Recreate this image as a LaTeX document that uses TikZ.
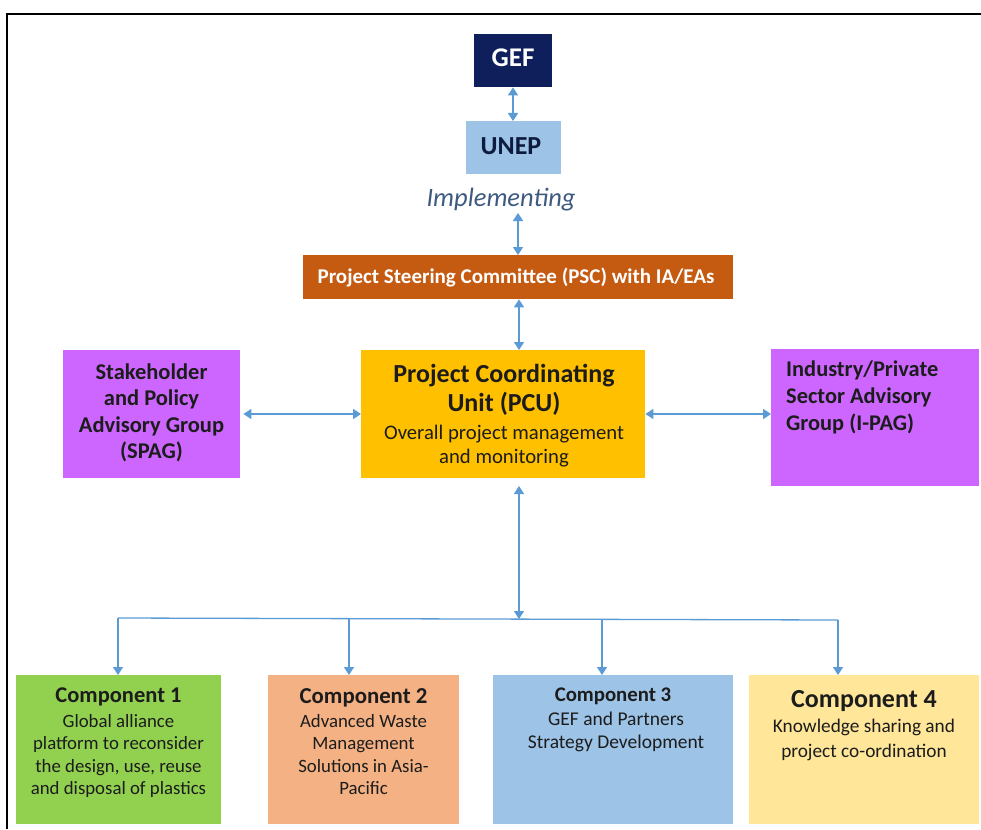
\documentclass[tikz,border=0pt]{standalone}
\usepackage{fontspec}
\setmainfont{Carlito}
\usetikzlibrary{arrows.meta}
\definecolor{gefnavy}{HTML}{0E1F5B}
\definecolor{unepblue}{HTML}{9DC3E6}
\definecolor{unepink}{HTML}{0D1B3E}
\definecolor{pscbrown}{HTML}{C55A11}
\definecolor{pcugold}{HTML}{FFC000}
\definecolor{advpurple}{HTML}{CC66FF}
\definecolor{cgreen}{HTML}{92D050}
\definecolor{corange}{HTML}{F4B183}
\definecolor{cblue}{HTML}{9DC3E6}
\definecolor{cyellow}{HTML}{FFE699}
\definecolor{arrowblue}{HTML}{5B9BD5}
\definecolor{implink}{HTML}{3E5A80}
\definecolor{darkink}{HTML}{1C1C1C}
\tikzset{
  boxshape/.style={rectangle, draw=none, inner sep=0pt, anchor=north west},
  txt/.style={inner sep=0pt, align=center, text=darkink},
  link/.style={draw=arrowblue, line width=1.6pt, {Triangle[length=8pt,width=10pt]}-{Triangle[length=8pt,width=10pt]}},
  down/.style={draw=arrowblue, line width=1.3pt, -{Triangle[length=8pt,width=10pt]}},
  bus/.style={draw=arrowblue, line width=1.3pt}
}
\begin{document}
\begin{tikzpicture}[x=1pt,y=-1pt]
\useasboundingbox (0,0) rectangle (981,829);
\draw[line width=2.2pt, black] (7,829) -- (7,14) -- (981,14);

% top chain
\node[boxshape, fill=gefnavy, minimum width=78pt, minimum height=53pt] (gef) at (474,34) {};
\node[txt, text=white, font=\fontsize{27}{30}\selectfont\bfseries] (geft) at (513,58) {GEF};
\node[boxshape, fill=unepblue, minimum width=95pt, minimum height=53pt] (unep) at (466,121) {};
\node[txt, text=unepink, font=\fontsize{26}{30}\selectfont\bfseries] (unept) at (511,146) {UNEP};
\node[txt, text=implink, font=\fontsize{26.5}{30}\selectfont\itshape] (impl) at (501,200) {Implementing};
\node[boxshape, fill=pscbrown, minimum width=430pt, minimum height=44pt] (psc) at (303,255) {};
\node[txt, text=white, font=\fontsize{21}{25}\selectfont\bfseries] (psct) at (516,277) {Project Steering Committee (PSC) with IA/EAs};

% middle row
\node[boxshape, fill=advpurple, minimum width=177pt, minimum height=128pt] (spag) at (63,350) {};
\node[txt, font=\fontsize{22.5}{26.5}\selectfont\bfseries] (spagt) at (151.5,413) {Stakeholder\\and Policy\\Advisory Group\\(SPAG)};
\node[boxshape, fill=pcugold, minimum width=284pt, minimum height=128pt] (pcu) at (361,350) {};
\node[txt, font=\fontsize{26}{29}\selectfont\bfseries] (pcua) at (504,390) {Project Coordinating\\Unit (PCU)};
\node[txt, font=\fontsize{20.7}{24}\selectfont] (pcub) at (504,446) {Overall project management\\and monitoring};
\node[boxshape, fill=advpurple, minimum width=208pt, minimum height=137pt] (ipag) at (771,349) {};
\node[txt, align=left, anchor=north west, font=\fontsize{22.4}{27}\selectfont\bfseries] (ipagt) at (786,361) {Industry/Private\\Sector Advisory\\Group (I-PAG)};

% components
\node[boxshape, fill=cgreen, minimum width=205pt, minimum height=149pt] (c1) at (16,675) {};
\node[txt, anchor=north, font=\fontsize{22.5}{23}\selectfont\bfseries] (c1h) at (118.5,688) {Component 1};
\node[txt, anchor=north, font=\fontsize{18.8}{22.5}\selectfont] (c1b) at (118.5,714) {Global alliance\\platform to reconsider\\the design, use, reuse\\and disposal of plastics};
\node[boxshape, fill=corange, minimum width=191pt, minimum height=149pt] (c2) at (268,675) {};
\node[txt, anchor=north, font=\fontsize{22.8}{23}\selectfont\bfseries] (c2h) at (363.5,688) {Component 2};
\node[txt, anchor=north, font=\fontsize{18.8}{22.5}\selectfont] (c2b) at (363.5,714) {Advanced Waste\\Management\\Solutions in Asia-\\Pacific};
\node[boxshape, fill=cblue, minimum width=240pt, minimum height=149pt] (c3) at (493,675) {};
\node[txt, anchor=north, font=\fontsize{20.8}{22}\selectfont\bfseries] (c3h) at (613,688) {Component 3};
\node[txt, anchor=north, font=\fontsize{19.5}{23}\selectfont] (c3b) at (616,712) {GEF and Partners\\Strategy Development};
\node[boxshape, fill=cyellow, minimum width=230pt, minimum height=149pt] (c4) at (749,675) {};
\node[txt, anchor=north, font=\fontsize{26}{27}\selectfont\bfseries] (c4h) at (864,690) {Component 4};
\node[txt, anchor=north, font=\fontsize{19.3}{25}\selectfont] (c4b) at (864,719) {Knowledge sharing and\\project co-ordination};

% connectors
\coordinate (imptop) at (518,213);
\coordinate (pcubot) at (519,486);
\coordinate (busmid) at (519,619);
\coordinate (busl) at (118,618);
\coordinate (busr) at (838,620);
\coordinate (b2) at (349,618.5);
\coordinate (b3) at (602,619.5);
\draw[link] (gef.south -| 513,0) -- (unep.north -| 513,0);
\draw[link] (imptop) -- (psc.north -| imptop);
\draw[link] (psc.south -| 519,0) -- (pcu.north -| 519,0);
\draw[link] (spag.east |- 0,414) ++(3,0) -- (pcu.west |- 0,414);
\draw[link] (pcu.east |- 0,414) -- (ipag.west |- 0,414);
\draw[link] (pcubot) -- (busmid);
\draw[bus] (busl) -- (busr);
\draw[down] (busl) -- (c1.north -| busl);
\draw[down] (b2) -- (c2.north -| b2);
\draw[down] (b3) -- (c3.north -| b3);
\draw[down] (busr) -- (c4.north -| busr);
\end{tikzpicture}
\end{document}
